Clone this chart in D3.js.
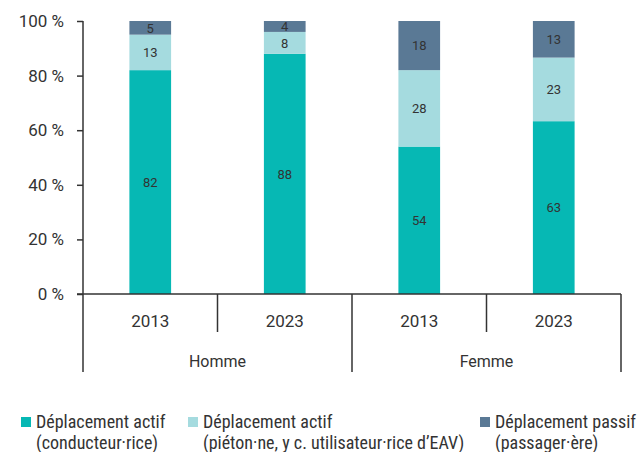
<!DOCTYPE html>
<html>
<head>
<meta charset="utf-8">
<script src="https://cdn.jsdelivr.net/npm/d3@7"></script>
<style>
  html, body { margin: 0; padding: 0; background: #fff; }
  svg { display: block; }
</style>
</head>
<body>
<svg id="chart" width="638" height="452"></svg>
<script>
// ---- Data ----
const groups = ["Homme", "Homme", "Femme", "Femme"];
const years = ["2013", "2023", "2013", "2023"];
const conducteur = [82, 88, 54, 63.3];
const pieton = [13, 8, 28, 23.3];
const passager = [5, 4, 18, 13.4];
const seriesNames = [
  ["Déplacement actif", "(conducteur·rice)"],
  ["Déplacement actif", "(piéton·ne, y c. utilisateur·rice d’EAV)"],
  ["Déplacement passif", "(passager·ère)"]
];
const yTicks = [0, 20, 40, 60, 80, 100];
const colors = ["#06b8b4", "#a5dbdf", "#5a7995"];

// ---- Layout ----
const svg = d3.select("#chart");
const margin = { left: 83, right: 17, top: 21, bottom: 158 };
const W = 638, H = 452;
const x0 = margin.left, x1 = W - margin.right;
const yBottom = H - margin.bottom;
const axisFont = "Roboto, 'Liberation Sans', sans-serif";
const legendFont = "'Liberation Sans Narrow', 'Roboto Condensed', 'DejaVu Sans Condensed', sans-serif";
const ink = "#333";

const idx = d3.range(years.length);
const x = d3.scaleBand().domain(idx).range([x0, x1]).paddingInner(0).paddingOuter(0);
const y = d3.scaleLinear().domain([0, 100]).range([yBottom, margin.top]);
const barW = x.bandwidth() * 0.31;

const rows = idx.map(i => ({ i, c: conducteur[i], p: pieton[i], s: passager[i] }));
const stack = d3.stack().keys(["c", "p", "s"])(rows);

// bars
stack.forEach((layer, k) => {
  svg.append("g").selectAll("rect").data(layer).join("rect")
    .attr("x", d => x(d.data.i) + (x.bandwidth() - barW) / 2)
    .attr("width", barW)
    .attr("y", d => y(d[1]))
    .attr("height", d => y(d[0]) - y(d[1]))
    .attr("fill", colors[k]);
  svg.append("g").selectAll("text").data(layer).join("text")
    .attr("x", d => x(d.data.i) + x.bandwidth() / 2)
    .attr("y", d => (y(d[0]) + y(d[1])) / 2)
    .attr("dy", "0.36em")
    .attr("text-anchor", "middle")
    .attr("font-family", axisFont)
    .attr("font-size", 13)
    .attr("fill", ink)
    .text(d => d3.format(".0f")(d[1] - d[0]));
});

// y axis
const yAxis = d3.axisLeft(y).tickValues(yTicks).tickSize(6).tickPadding(13)
  .tickFormat(d => d + " %");
const gy = svg.append("g").attr("transform", `translate(${x0},0)`).call(yAxis);
gy.select(".domain").attr("stroke", ink).attr("stroke-width", 1.5).attr("d", `M0,${margin.top}V${yBottom}`);
gy.selectAll(".tick line").attr("stroke", ink).attr("stroke-width", 1.5);
gy.selectAll(".tick text").attr("font-family", axisFont).attr("font-size", 17).attr("fill", ink);

// x axis line
svg.append("line").attr("x1", x0 - 6).attr("x2", x1).attr("y1", yBottom).attr("y2", yBottom)
  .attr("stroke", ink).attr("stroke-width", 1.5);

// separators
const sepShort = 38, sepLong = 78;
idx.concat([years.length]).forEach(i => {
  const xp = i < years.length ? x(i) : x1;
  const isGroupEdge = i === 0 || i === years.length || groups[i] !== groups[i - 1];
  svg.append("line").attr("x1", xp).attr("x2", xp)
    .attr("y1", yBottom).attr("y2", yBottom + (isGroupEdge ? sepLong : sepShort))
    .attr("stroke", ink).attr("stroke-width", 1.5);
});

// year labels
svg.append("g").selectAll("text").data(idx).join("text")
  .attr("x", i => x(i) + x.bandwidth() / 2)
  .attr("y", yBottom + 33)
  .attr("text-anchor", "middle")
  .attr("font-family", axisFont).attr("font-size", 17).attr("fill", ink)
  .text(i => years[i]);

// group labels
const groupNames = Array.from(new Set(groups));
groupNames.forEach(g => {
  const members = idx.filter(i => groups[i] === g);
  const gx = (x(members[0]) + x(members[members.length - 1]) + x.bandwidth()) / 2;
  svg.append("text").attr("x", gx).attr("y", yBottom + 73)
    .attr("text-anchor", "middle")
    .attr("font-family", axisFont).attr("font-size", 16).attr("fill", ink)
    .text(g);
});

// legend
const legendX = [21, 188, 480];
seriesNames.forEach((lines, k) => {
  const g = svg.append("g").attr("transform", `translate(${legendX[k]},417)`);
  g.append("rect").attr("width", 10).attr("height", 10).attr("fill", colors[k]);
  lines.forEach((t, j) => {
    g.append("text").attr("x", 15).attr("y", 11 + j * 21)
      .attr("font-family", legendFont).attr("font-size", 18).attr("fill", ink)
      .text(t);
  });
});
</script>
</body>
</html>
